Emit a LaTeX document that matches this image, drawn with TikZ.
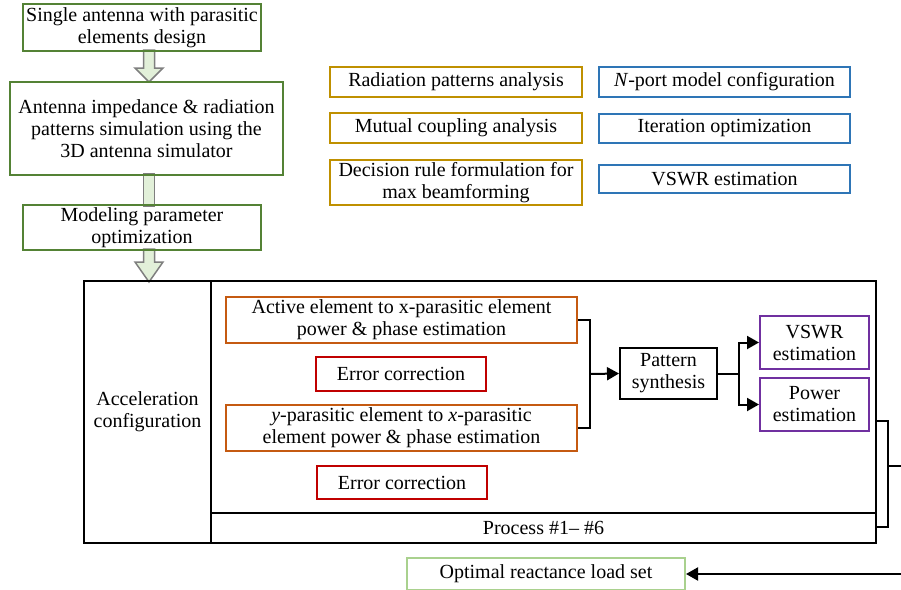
\documentclass[tikz,border=0pt]{standalone}
\usepackage{fontspec}
\setmainfont{Liberation Serif}
\usetikzlibrary{arrows.meta}
\definecolor{dgreen}{HTML}{548235}
\definecolor{lgreen}{HTML}{A9D18E}
\definecolor{afill}{HTML}{E2F0D9}
\definecolor{agray}{HTML}{7F7F7F}
\definecolor{gold}{HTML}{BF9000}
\definecolor{bblue}{HTML}{2E75B6}
\definecolor{orng}{HTML}{C55A11}
\definecolor{rred}{HTML}{C00000}
\definecolor{purp}{HTML}{7030A0}
\begin{document}
\begin{tikzpicture}[x=1pt,y=-1pt,
  bx/.style={rectangle, draw, line width=2pt, align=center, inner sep=0pt,
    font=\fontsize{20}{22}\selectfont},
  frame/.style={rectangle, draw=black, line width=2.4pt, align=center, inner sep=0pt,
    font=\fontsize{20}{22}\selectfont},
  blk/.style={draw=agray, fill=afill, line width=1.5pt, line join=miter},
  wire/.style={draw=black, line width=2pt},
  conn/.style={draw=black, line width=2pt, -{Triangle[length=12pt,width=13pt]}}]
\useasboundingbox (0,0) rectangle (901,589);

% block arrows (drawn first, box borders cover their ends)
\filldraw[blk] (143.5,50) -- (143.5,68) -- (135,68) -- (149,82) -- (163,68) -- (154.5,68) -- (154.5,50) -- cycle;
\filldraw[blk] (143.5,174) rectangle (154.5,206);
\filldraw[blk] (143.5,249) -- (143.5,262) -- (135,262) -- (149,282) -- (163,262) -- (154.5,262) -- (154.5,249) -- cycle;

% left column
\node[bx, draw=dgreen, minimum width=238, minimum height=47] (b1) at (142,27.5)
  {Single antenna with parasitic\\elements design};
\node[bx, draw=dgreen, minimum width=273, minimum height=93] (b2) at (146.5,128.5)
  {Antenna impedance \& radiation\\patterns simulation using the\\3D antenna simulator};
\node[bx, draw=dgreen, minimum width=238, minimum height=45] (b3) at (142,227.5)
  {Modeling parameter\\optimization};

% gold column
\node[bx, draw=gold, minimum width=252, minimum height=30] (g1) at (456,82)
  {Radiation patterns analysis};
\node[bx, draw=gold, minimum width=252, minimum height=30] (g2) at (456,128)
  {Mutual coupling analysis};
\node[bx, draw=gold, minimum width=252, minimum height=45] (g3) at (456,182.5)
  {Decision rule formulation for\\max beamforming};

% blue column
\node[bx, draw=bblue, minimum width=251, minimum height=30] (u1) at (724.5,82)
  {\textit{N}-port model configuration};
\node[bx, draw=bblue, minimum width=251, minimum height=29] (u2) at (724.5,128.5)
  {Iteration optimization};
\node[bx, draw=bblue, minimum width=251, minimum height=28] (u3) at (724.5,179)
  {VSWR estimation};

% big frame
\node[frame, minimum width=127, minimum height=262] (acc) at (147.5,412)
  {Acceleration\\configuration};
\node[frame, minimum width=665, minimum height=262] (main) at (543.5,412) {};
\node[frame, minimum width=665, minimum height=30] (proc) at (543.5,528)
  {Process \#1– \#6};

% inner boxes
\node[bx, draw=orng, minimum width=351, minimum height=46] (o1) at (401.5,320)
  {Active element to x-parasitic element\\power \& phase estimation};
\node[bx, draw=rred, minimum width=170, minimum height=34] (r1) at (401,374)
  {Error correction};
\node[bx, draw=orng, minimum width=351, minimum height=46] (o2) at (401.5,428)
  {\textit{y}-parasitic element to \textit{x}-parasitic\\element power \& phase estimation};
\node[bx, draw=rred, minimum width=170, minimum height=33] (r2) at (402,482.5)
  {Error correction};
\node[bx, draw=black, minimum width=97, minimum height=51] (ps) at (668.5,373.5)
  {Pattern\\synthesis};
\node[bx, draw=purp, minimum width=109, minimum height=53] (vs) at (814.5,342.5)
  {VSWR\\estimation};
\node[bx, draw=purp, minimum width=109, minimum height=53] (pw) at (814.5,404.5)
  {Power\\estimation};

% bottom box
\node[bx, draw=lgreen, minimum width=278, minimum height=32] (opt) at (546,574)
  {Optimal reactance load set};

% connectors
\coordinate (j1) at (590,374);
\draw[wire] (o1.east) -| (j1) |- (o2.east);
\draw[conn] (j1) -- (ps.west);
\coordinate (j2) at (739,373.5);
\draw[wire] (ps.east) -- (j2);
\draw[conn] (j2) |- (vs.west);
\draw[conn] (j2) |- (pw.west);

\coordinate (c1) at (876,421);
\coordinate (c2) at (876,527);
\coordinate (j3) at (888,466);
\coordinate (e1) at (902,466);
\draw[wire] (c1) -| (j3) |- (c2);
\draw[wire] (j3) -- (e1);
\coordinate (e2) at (902,574);
\draw[conn] (e2) -- (opt.east);
\end{tikzpicture}
\end{document}
